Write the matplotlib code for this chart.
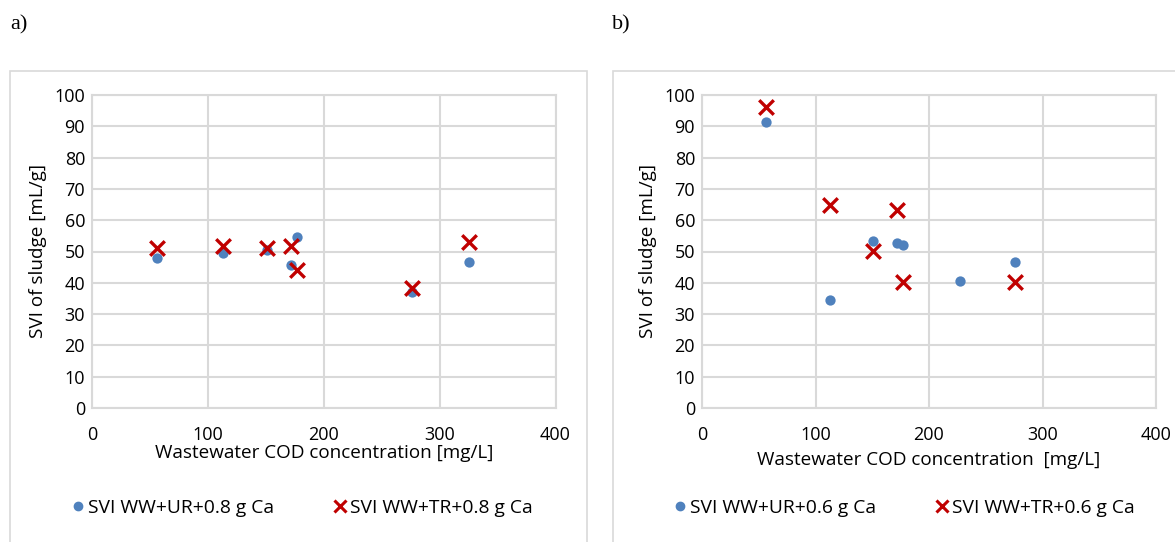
import matplotlib
matplotlib.use("Agg")
import matplotlib.pyplot as plt
from matplotlib.patches import Rectangle
from matplotlib.lines import Line2D

plt.rcParams['font.family'] = ['Open Sans', 'DejaVu Sans']

# panel a) 0.8 g Ca
a_ur_x = [56, 113, 151, 172, 177, 276, 325]
a_ur_y = [48.0, 49.4, 50.4, 45.6, 54.6, 37.1, 46.5]
a_tr_x = [56, 113, 151, 172, 177, 276, 325]
a_tr_y = [51.2, 51.6, 51.0, 51.8, 44.2, 38.2, 53.1]

# panel b) 0.6 g Ca
b_ur_x = [56, 113, 151, 172, 177, 227, 276]
b_ur_y = [91.5, 34.5, 53.2, 52.7, 52.0, 40.7, 46.6]
b_tr_x = [56, 113, 151, 172, 177, 276]
b_tr_y = [96.1, 65.0, 50.2, 63.1, 40.3, 40.2]

xticks = [0, 100, 200, 300, 400]
yticks = list(range(0, 101, 10))

BLUE = '#4f81bd'
RED = '#c00000'
GRID = '#d9d9d9'

W, H = 1175, 542
fig = plt.figure(figsize=(W / 100, H / 100), dpi=100)


def fx(px):
    return px / W


def fy(py):
    return 1 - py / H


# chart frames
for x0, x1 in [(10, 587), (613, 1180)]:
    fig.patches.append(Rectangle((fx(x0), fy(545)), fx(x1 - x0), (545 - 71) / H,
                                 transform=fig.transFigure, fill=False,
                                 edgecolor=GRID, linewidth=1.2))


def panel(left, right, ur_x, ur_y, tr_x, tr_y, xlabel, leg, lab, labx, xlab_y, leg_pos):
    ax = fig.add_axes([fx(left), fy(408), fx(right - left), (408 - 95) / H])
    ax.scatter(ur_x, ur_y, s=55, color=BLUE, zorder=3, linewidths=0)
    ax.scatter(tr_x, tr_y, s=110, marker='x', color=RED, linewidths=2.4, zorder=4)
    ax.set_xlim(0, 400)
    ax.set_ylim(0, 100)
    ax.set_xticks(xticks)
    ax.set_yticks(yticks)
    ax.grid(True, color=GRID, linewidth=1.5)
    ax.set_axisbelow(True)
    for s in ax.spines.values():
        s.set_color(GRID)
        s.set_linewidth(1.5)
    ax.tick_params(length=0, labelsize=13, colors='#000000', pad=5)
    ax.tick_params(axis='x', pad=13)
    ax.set_ylabel('SVI of sludge [mL/g]', fontsize=13.6, labelpad=5)
    fig.text(fx((left + right) / 2), fy(xlab_y), xlabel, fontsize=13.6,
             ha='center', va='center')
    handles = [
        Line2D([], [], linestyle='none', marker='o', color=BLUE, markersize=6),
        Line2D([], [], linestyle='none', marker='x', color=RED, markersize=9, mew=2.2),
    ]
    fig.legend(handles, leg, loc='center', bbox_to_anchor=(fx(leg_pos), fy(508)),
               ncol=2, frameon=False, fontsize=13.9, handlelength=0.5,
               handletextpad=0.25, columnspacing=3.2)
    fig.text(fx(labx), fy(25), lab, fontsize=16, family='Liberation Serif',
             ha='left', va='center')
    return ax


panel(92, 555.5, a_ur_x, a_ur_y, a_tr_x, a_tr_y,
      'Wastewater COD concentration [mg/L]',
      ['SVI WW+UR+0.8 g Ca', 'SVI WW+TR+0.8 g Ca'], 'a)', 10, 453, 303)
panel(702, 1156, b_ur_x, b_ur_y, b_tr_x, b_tr_y,
      'Wastewater COD concentration  [mg/L]',
      ['SVI WW+UR+0.6 g Ca', 'SVI WW+TR+0.6 g Ca'], 'b)', 612, 460, 905)

fig.savefig('out.png', dpi=100)
